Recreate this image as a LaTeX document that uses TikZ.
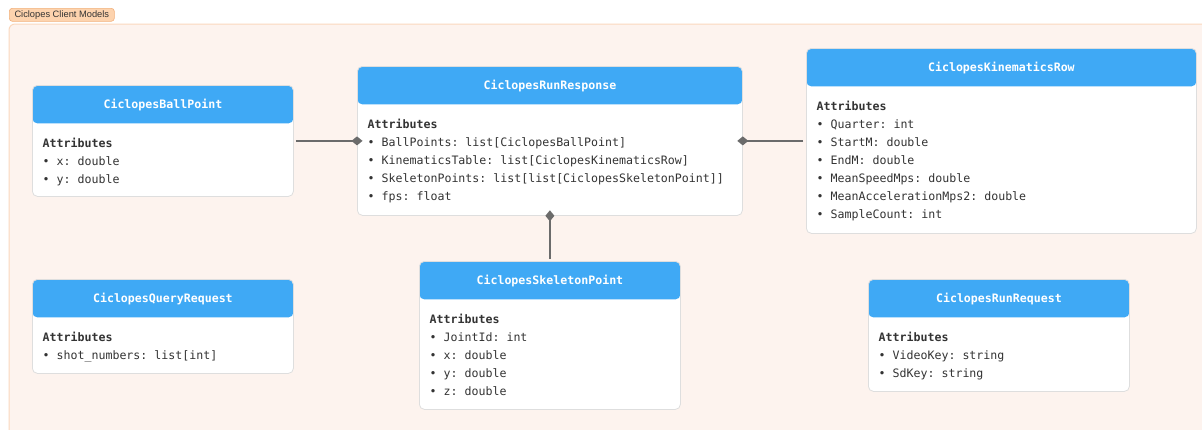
\documentclass[tikz,border=0pt]{standalone}
\usepackage{fontspec}
\setmonofont{DejaVu Sans Mono}
\setsansfont{Liberation Sans}
\usetikzlibrary{positioning, calc, arrows.meta}
\definecolor{Frame}{HTML}{FDF3EE}
\definecolor{FrameLine}{HTML}{FAD8BE}
\definecolor{Tag}{HTML}{FDD3AE}
\definecolor{TagLine}{HTML}{F2B07C}
\definecolor{Head}{HTML}{3FA9F5}
\definecolor{BoxLine}{HTML}{DEDEDE}
\definecolor{Link}{HTML}{6B6B6B}
\definecolor{Ink}{HTML}{333333}
\tikzset{
    classbox/.style={rectangle, rounded corners=5pt, draw=BoxLine, line width=0.8pt, fill=white, anchor=north west, inner sep=0pt,
        path picture={\fill[Head] (path picture bounding box.north west) rectangle ([yshift=-38pt]path picture bounding box.north east);}},
    classtitle/.style={anchor=base, inner sep=0pt, text=white, font=\ttfamily\bfseries\fontsize{11.6}{14}\selectfont},
    classattr/.style={anchor=north west, inner sep=0pt, align=left, text=Ink, font=\ttfamily\fontsize{11.6}{18}\selectfont},
    assoc/.style={draw=Link, line width=2.2pt, -{Diamond[length=11pt,width=9pt]}, shorten >=-5.5pt, shorten <=2pt},
}

\begin{document}
\begin{tikzpicture}[x=1pt, y=1pt]
    \useasboundingbox (0,0) rectangle (1202,-429);

    % Cornice del gruppo
    \draw[fill=Frame, draw=FrameLine, line width=1pt, rounded corners=6pt] (9,-24) rectangle (1220,-450);
    \node[anchor=north west, minimum width=105, minimum height=13, inner sep=0pt, rounded corners=3pt,
          fill=Tag, draw=TagLine, line width=0.6pt, text=Ink, font=\sffamily\fontsize{9.3}{10}\selectfont] (tag) at (9,-8) {Ciclopes Client Models};

    % Classi
    \node[classbox, minimum width=261, minimum height=111] (ball) at (32,-85) {};
    \node[classtitle] (ball-title) at ([yshift=-23pt]ball.north) {CiclopesBallPoint};
    \node[classattr] (ball-attr) at ([xshift=10.5pt, yshift=-52.7pt]ball.north west) {\textbf{Attributes}\\• x: double\\• y: double};

    \node[classbox, minimum width=385, minimum height=149] (resp) at (357,-66) {};
    \node[classtitle] (resp-title) at ([yshift=-23pt]resp.north) {CiclopesRunResponse};
    \node[classattr] (resp-attr) at ([xshift=10.5pt, yshift=-52.7pt]resp.north west) {\textbf{Attributes}\\• BallPoints: list[CiclopesBallPoint]\\• KinematicsTable: list[CiclopesKinematicsRow]\\• SkeletonPoints: list[list[CiclopesSkeletonPoint]]\\• fps: float};

    \node[classbox, minimum width=390, minimum height=185] (kin) at (806,-48) {};
    \node[classtitle] (kin-title) at ([yshift=-23pt]kin.north) {CiclopesKinematicsRow};
    \node[classattr] (kin-attr) at ([xshift=10.5pt, yshift=-52.7pt]kin.north west) {\textbf{Attributes}\\• Quarter: int\\• StartM: double\\• EndM: double\\• MeanSpeedMps: double\\• MeanAccelerationMps2: double\\• SampleCount: int};

    \node[classbox, minimum width=261, minimum height=94] (query) at (32,-279) {};
    \node[classtitle] (query-title) at ([yshift=-23pt]query.north) {CiclopesQueryRequest};
    \node[classattr] (query-attr) at ([xshift=10.5pt, yshift=-52.7pt]query.north west) {\textbf{Attributes}\\ • shot\_numbers: list[int]};

    \node[classbox, minimum width=261, minimum height=148] (skel) at (419,-261) {};
    \node[classtitle] (skel-title) at ([yshift=-23pt]skel.north) {CiclopesSkeletonPoint};
    \node[classattr] (skel-attr) at ([xshift=10.5pt, yshift=-52.7pt]skel.north west) {\textbf{Attributes}\\• JointId: int\\• x: double\\• y: double\\• z: double};

    \node[classbox, minimum width=261, minimum height=112] (runreq) at (868,-279) {};
    \node[classtitle] (runreq-title) at ([yshift=-23pt]runreq.north) {CiclopesRunRequest};
    \node[classattr] (runreq-attr) at ([xshift=10.5pt, yshift=-52.7pt]runreq.north west) {\textbf{Attributes}\\• VideoKey: string\\• SdKey: string};

    % Associazioni (rombo sul lato di CiclopesRunResponse)
    \draw[assoc] (ball.east) -- (resp.west);
    \draw[assoc, shorten <=3pt] (kin.west) -- (resp.east);
    \draw[assoc] (skel.north) -- (resp.south);
\end{tikzpicture}
\end{document}
